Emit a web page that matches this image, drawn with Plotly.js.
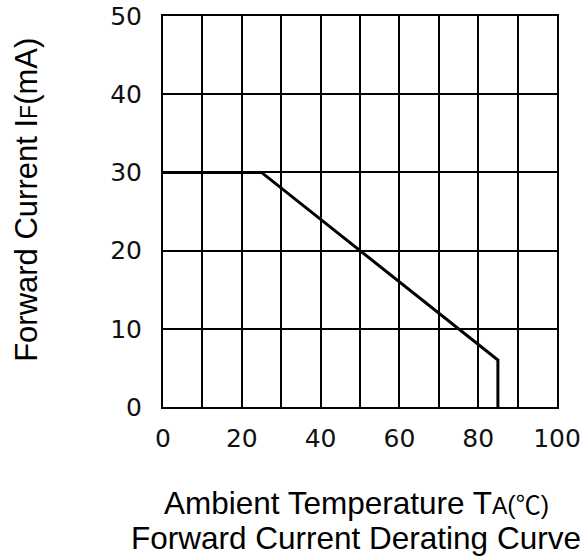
<!DOCTYPE html>
<html>
<head>
<meta charset="utf-8">
<script src="https://cdn.plot.ly/plotly-3.0.1.min.js"></script>
<style>html,body{margin:0;padding:0;background:#fff;}#chart{width:586px;height:557px;}</style>
</head>
<body>
<div id="chart"></div>
<script>
// Derating curve points (temperature °C, forward current mA)
const temperature = [0, 25, 85, 85];
const forwardCurrent = [30, 30, 6, 0];
const xTickValues = [0, 10, 20, 30, 40, 50, 60, 70, 80, 90, 100];
const xTickLabels = ['0', '', '20', '', '40', '', '60', '', '80', '', '100'];
const yTickValues = [0, 10, 20, 30, 40, 50];
const yTickLabels = ['0', '10', '20', '30', '40', '50'];

const titleFont = 'Liberation Sans, Arial, sans-serif';
const tickFont = 'DejaVu Sans, Verdana, sans-serif';

const trace = {
  x: temperature,
  y: forwardCurrent,
  type: 'scatter',
  mode: 'lines',
  line: {color: '#000', width: 3},
  hoverinfo: 'skip'
};

const layout = {
  width: 586, height: 557,
  margin: {l: 163, r: 29, t: 16, b: 150},
  paper_bgcolor: '#fff', plot_bgcolor: '#fff',
  showlegend: false,
  xaxis: {
    range: [0, 100], tickvals: xTickValues, ticktext: xTickLabels,
    showgrid: true, gridcolor: '#000', gridwidth: 2,
    showline: true, linecolor: '#000', linewidth: 2, mirror: true,
    zeroline: false, ticks: '', ticklabelstandoff: 8,
    tickfont: {family: tickFont, size: 25, color: '#111'}
  },
  yaxis: {
    range: [0, 50], tickvals: yTickValues, ticktext: yTickLabels,
    showgrid: true, gridcolor: '#000', gridwidth: 2,
    showline: true, linecolor: '#000', linewidth: 2, mirror: true,
    zeroline: false, ticks: '', ticklabelstandoff: 14,
    tickfont: {family: tickFont, size: 25, color: '#111'}
  },
  annotations: [
    {xref: 'paper', yref: 'paper', x: -0.345, y: 0.53, xanchor: 'center', yanchor: 'middle',
     showarrow: false, textangle: -90,
     text: 'Forward Current I<span style="font-size:23px">F</span>(mA)',
     font: {family: titleFont, size: 31, color: '#000'}},
    {xref: 'paper', yref: 'paper', x: 0.49, y: 0, yshift: -96, xanchor: 'center', yanchor: 'middle',
     showarrow: false,
     text: 'Ambient Temperature T<span style="font-size:23px">A</span><span style="font-size:25px">(</span><span style="font-family:Noto Sans CJK SC;font-size:25px">℃</span><span style="font-size:25px">)</span>',
     font: {family: titleFont, size: 31.5, color: '#000'}},
    {xref: 'paper', yref: 'paper', x: 0.49, y: 0, yshift: -131, xanchor: 'center', yanchor: 'middle',
     showarrow: false,
     text: 'Forward Current Derating Curve',
     font: {family: titleFont, size: 31.5, color: '#000'}}
  ]
};

Plotly.newPlot('chart', [trace], layout, {displayModeBar: false, staticPlot: true});
</script>
</body>
</html>
